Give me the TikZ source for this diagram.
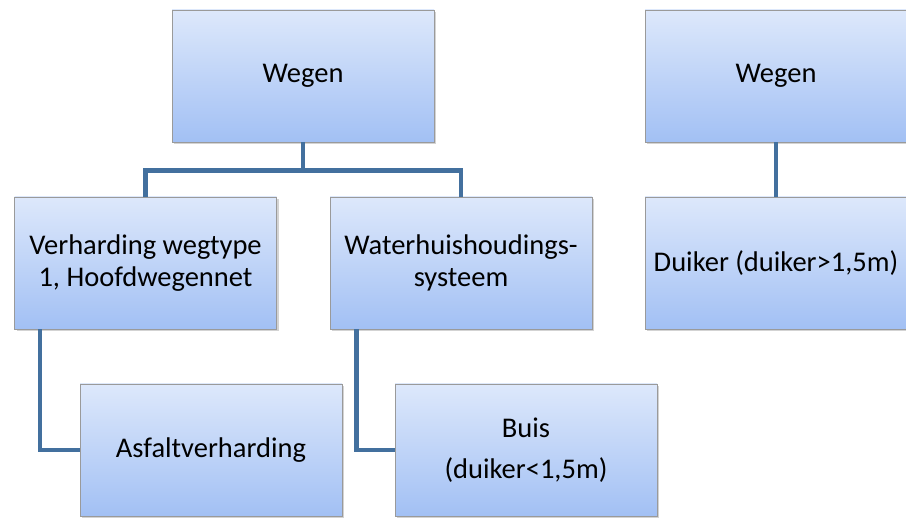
\documentclass[tikz,border=0pt]{standalone}
\usepackage{fontspec}
\setmainfont{Carlito}
\usetikzlibrary{shadows}
\definecolor{boxtop}{HTML}{DDE8FB}
\definecolor{boxbot}{HTML}{A2C0F4}
\definecolor{boxrim}{HTML}{9A9A9A}
\definecolor{linkblue}{HTML}{43709E}
\tikzset{
    BX/.style ={rectangle,minimum width = 262pt, minimum height = 132pt, draw=boxrim, line width=0.8pt,
        top color=boxtop, bottom color=boxbot, align=center,
        font=\fontsize{28.5pt}{32pt}\selectfont,
        drop shadow={shadow xshift=2pt,shadow yshift=-2pt,opacity=0.35}},
    LK/.style ={draw=linkblue, line width=4.5pt}}
\begin{document}
\begin{tikzpicture}[x=1pt,y=-1pt]
        \useasboundingbox (0,0) rectangle (906,518);
        \node[BX](w1)  at (303,76) {Wegen};
        \node[BX](verh)  at (145.5,263) {Verharding wegtype\\1, Hoofdwegennet};
        \node[BX](water)  at (461,263) {Waterhuishoudings-\\systeem};
        \node[BX](asf)  at (211,450) {Asfaltverharding};
        \node[BX](buis)  at (526,450) {Buis\\[9pt](duiker<1,5m)};
        \node[BX](w2)  at (776,76) {Wegen};
        \node[BX](duik)  at (776,263) {Duiker (duiker>1,5m)};
        \draw[LK] (w1.south) -- ++(0,28) -| (verh.north);
        \draw[LK] (w1.south) ++(0,28) -| (water.north);
        \draw[LK] ([xshift=26pt]verh.south west) |- (asf.west);
        \draw[LK] ([xshift=27pt]water.south west) |- (buis.west);
        \draw[LK] (w2.south) -- (duik.north);
    \end{tikzpicture}
\end{document}
